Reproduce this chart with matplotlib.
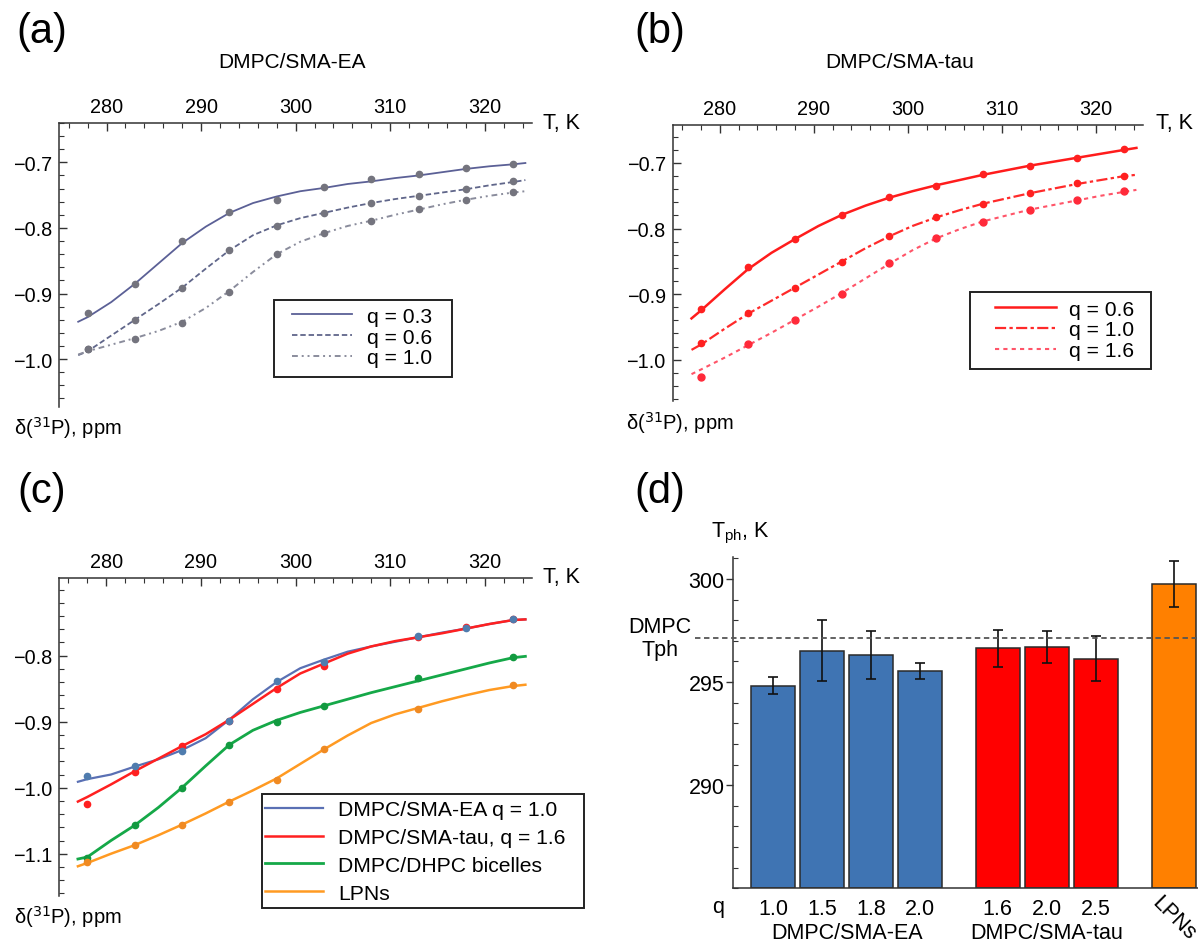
import matplotlib
matplotlib.use("Agg")
import matplotlib.pyplot as plt
from matplotlib.patches import Rectangle
from matplotlib.ticker import MultipleLocator

plt.rcParams["font.family"] = ["Liberation Sans", "DejaVu Sans"]

# ---- data ----
T_PTS = [278, 283, 288, 293, 298, 303, 308, 313, 318, 323]
T_FIT = [277, 278, 280.5, 283, 285.5, 288, 290.5, 293, 295.5, 298, 300.5,
         303, 305.5, 308, 310.5, 313, 315.5, 318, 320.5, 323, 324.3]

# (a) DMPC/SMA-EA
ea_q03 = [-0.929, -0.885, -0.820, -0.775, -0.757, -0.738, -0.726, -0.718, -0.709, -0.702]
ea_q06 = [-0.985, -0.940, -0.891, -0.833, -0.797, -0.777, -0.762, -0.751, -0.740, -0.729]
ea_q10 = [-0.985, -0.969, -0.945, -0.897, -0.840, -0.808, -0.790, -0.771, -0.757, -0.745]
ea_q03_fit = [-0.943, -0.936, -0.913, -0.885, -0.854, -0.823, -0.798, -0.777, -0.762, -0.752, -0.744,
              -0.739, -0.733, -0.729, -0.724, -0.720, -0.715, -0.710, -0.706, -0.703, -0.701]
ea_q06_fit = [-0.994, -0.988, -0.964, -0.940, -0.916, -0.891, -0.862, -0.834, -0.811, -0.796, -0.785,
              -0.777, -0.769, -0.762, -0.756, -0.751, -0.746, -0.741, -0.735, -0.730, -0.727]
ea_q10_fit = [-0.993, -0.988, -0.978, -0.968, -0.957, -0.943, -0.922, -0.896, -0.867, -0.840, -0.821,
              -0.808, -0.797, -0.789, -0.780, -0.772, -0.764, -0.757, -0.751, -0.746, -0.744]

# (b) DMPC/SMA-tau
tau_q06 = [-0.923, -0.858, -0.816, -0.779, -0.752, -0.735, -0.717, -0.704, -0.692, -0.679]
tau_q10 = [-0.975, -0.929, -0.891, -0.851, -0.812, -0.783, -0.762, -0.746, -0.731, -0.720]
tau_q16 = [-1.026, -0.976, -0.939, -0.900, -0.852, -0.814, -0.790, -0.772, -0.757, -0.743]
tau_q06_fit = [-0.937, -0.925, -0.893, -0.862, -0.837, -0.816, -0.796, -0.779, -0.765, -0.753, -0.743,
               -0.734, -0.726, -0.718, -0.711, -0.704, -0.698, -0.692, -0.686, -0.680, -0.677]
tau_q10_fit = [-0.985, -0.977, -0.953, -0.930, -0.910, -0.890, -0.870, -0.850, -0.830, -0.812, -0.796,
               -0.783, -0.772, -0.762, -0.754, -0.746, -0.739, -0.732, -0.726, -0.720, -0.718]
tau_q16_fit = [-1.022, -1.015, -0.997, -0.978, -0.959, -0.939, -0.919, -0.898, -0.876, -0.854, -0.833,
               -0.815, -0.801, -0.789, -0.780, -0.771, -0.764, -0.757, -0.750, -0.744, -0.741]

# (c) comparison
T_PTS_C1 = [278, 283, 288, 293, 298, 303, 313, 318, 323]
ea_c_pts = [-0.983, -0.967, -0.944, -0.899, -0.839, -0.809, -0.770, -0.758, -0.745]
tau_c_pts = [-1.025, -0.976, -0.937, -0.899, -0.851, -0.815, -0.772, -0.757, -0.745]
T_PTS_C2 = [278, 283, 288, 293, 298, 303, 313, 323]
bic_pts = [-1.107, -1.057, -1.000, -0.936, -0.900, -0.876, -0.834, -0.802]
lpn_pts = [-1.113, -1.087, -1.056, -1.021, -0.988, -0.942, -0.881, -0.845]
ea_c_fit = [-0.991, -0.987, -0.980, -0.968, -0.957, -0.943, -0.925, -0.897, -0.866, -0.840, -0.819,
            -0.806, -0.794, -0.786, -0.779, -0.772, -0.765, -0.759, -0.752, -0.746, -0.745]
tau_c_fit = [-1.021, -1.014, -0.995, -0.975, -0.956, -0.937, -0.919, -0.897, -0.873, -0.849, -0.827,
             -0.812, -0.797, -0.786, -0.778, -0.772, -0.766, -0.759, -0.752, -0.746, -0.745]
bic_fit = [-1.108, -1.105, -1.080, -1.057, -1.030, -1.000, -0.967, -0.935, -0.913, -0.898, -0.886,
           -0.876, -0.866, -0.856, -0.847, -0.838, -0.829, -0.820, -0.811, -0.803, -0.801]
lpn_fit = [-1.119, -1.114, -1.100, -1.087, -1.072, -1.056, -1.039, -1.021, -1.004, -0.986, -0.964,
           -0.942, -0.921, -0.902, -0.889, -0.879, -0.869, -0.860, -0.852, -0.846, -0.844]

# (d) phase transition temperatures
bar_labels = ["1.0", "1.5", "1.8", "2.0", "1.6", "2.0", "2.5"]
bar_pos = [0, 1, 2, 3, 4.58, 5.58, 6.58, 8.18]
tph = [294.82, 296.53, 296.32, 295.54, 296.63, 296.71, 296.14, 299.76]
tph_err = [0.41, 1.49, 1.17, 0.38, 0.90, 0.78, 1.10, 1.11]
bar_colors = ["#3f74b3"] * 4 + ["#ff0000"] * 3 + ["#ff8000"]
dmpc_tph = 297.15

W, H = 1198, 945
fig = plt.figure(figsize=(W / 100, H / 100), dpi=100)

TICK_FS = 14.3
LABEL_FS = 14.5
LEG_FS = 15.2


def box(left, right, top, bottom):
    return [left / W, 1 - bottom / H, (right - left) / W, (bottom - top) / H]


def ftext(x, y, s, **kw):
    fig.text(x / W, 1 - y / H, s, **kw)


def style_curve_axes(ax, ylim, yticks):
    ax.set_xlim(275, 325)
    ax.set_ylim(*ylim)
    ax.spines["right"].set_visible(False)
    ax.spines["bottom"].set_visible(False)
    for s in ("left", "top"):
        ax.spines[s].set_color("#333333")
        ax.spines[s].set_linewidth(1.1)
    ax.xaxis.tick_top()
    ax.set_xticks([280, 290, 300, 310, 320])
    ax.xaxis.set_minor_locator(MultipleLocator(2))
    ax.set_yticks(yticks)
    ax.yaxis.set_minor_locator(MultipleLocator(0.02))
    ax.tick_params(which="major", direction="in", length=6, width=1.0, labelsize=TICK_FS,
                   pad=5, color="#333333")
    ax.tick_params(which="minor", direction="in", length=3.5, width=0.8, color="#333333")
    ax.patch.set_alpha(0)


def framed_legend(ax, frame, anchor, handlelength, handletextpad, labelspacing):
    # frame = (left, right, top, bottom) in figure pixels, anchor = (x, y) of left/centre
    l, r, t, b = frame
    ax.add_patch(Rectangle((l / W, 1 - b / H), (r - l) / W, (b - t) / H,
                           transform=fig.transFigure, facecolor="white", edgecolor="#222222",
                           linewidth=1.4, clip_on=False, zorder=5))
    leg = ax.legend(loc="center left", bbox_to_anchor=(anchor[0] / W, 1 - anchor[1] / H),
                    bbox_transform=fig.transFigure, fontsize=LEG_FS, frameon=False,
                    handlelength=handlelength, handletextpad=handletextpad,
                    labelspacing=labelspacing, borderpad=0, borderaxespad=0)
    leg.set_zorder(6)
    return leg


# ---- (a) ----
ax = fig.add_axes(box(59.3, 532, 124, 408))
style_curve_axes(ax, (-1.073, -0.640), [-1.0, -0.9, -0.8, -0.7])
ax.plot(T_FIT, ea_q03_fit, color="#5b6096", lw=1.3, label="q = 0.3")
ax.plot(T_FIT, ea_q06_fit, color="#60668a", lw=1.3, ls=(0, (3, 1.6)), label="q = 0.6")
ax.plot(T_FIT, ea_q10_fit, color="#8a8c9c", lw=1.4, ls=(0, (3, 2, 1, 2, 1, 2)), label="q = 1.0")
for ys in (ea_q03, ea_q06, ea_q10):
    ax.plot(T_PTS, ys, "o", color="#74747e", ms=4.5, zorder=3)
framed_legend(ax, (274, 452, 301, 378), (292, 338), 2.84, 0.71, 0.08)
ftext(42, 32, "(a)", fontsize=30, ha="center", va="center")
ftext(292, 62, "DMPC/SMA-EA", fontsize=15, ha="center", va="center")
ftext(543, 123, "T, K", fontsize=15.5, ha="left", va="center")
ftext(14, 428, r"δ($^{31}$P), ppm", fontsize=LABEL_FS, ha="left", va="center")

# ---- (b) ----
ax = fig.add_axes(box(672.7, 1143, 125.7, 401.7))
style_curve_axes(ax, (-1.0625, -0.6416), [-1.0, -0.9, -0.8, -0.7])
ax.plot(T_FIT, tau_q06_fit, color="#ff1c1c", lw=1.8, label="q = 0.6")
ax.plot(T_FIT, tau_q10_fit, color="#ff2a2a", lw=1.6, ls=(0, (5, 1.5, 1.5, 1.5)), label="q = 1.0")
ax.plot(T_FIT, tau_q16_fit, color="#ff5468", lw=1.5, ls=(0, (2, 2)), label="q = 1.6")
ax.plot(T_PTS, tau_q06, "o", color="#ff2020", ms=4.5, zorder=3)
ax.plot(T_PTS, tau_q10, "o", color="#ff2020", ms=4.5, zorder=3)
ax.plot(T_PTS, tau_q16, "o", color="#ff2a3a", ms=5, zorder=3)
framed_legend(ax, (970, 1151, 293, 370), (995, 331), 2.9, 0.62, 0.08)
ftext(660, 32, "(b)", fontsize=30, ha="center", va="center")
ftext(900, 62, "DMPC/SMA-tau", fontsize=15, ha="center", va="center")
ftext(1156, 123, "T, K", fontsize=15.5, ha="left", va="center")
ftext(626, 423, r"δ($^{31}$P), ppm", fontsize=LABEL_FS, ha="left", va="center")

# ---- (c) ----
ax = fig.add_axes(box(59, 532, 579, 896.7))
style_curve_axes(ax, (-1.1636, -0.6823), [-1.1, -1.0, -0.9, -0.8])
ax.plot(T_FIT, ea_c_fit, color="#5a70b4", lw=1.6, label="DMPC/SMA-EA q = 1.0")
ax.plot(T_FIT, tau_c_fit, color="#ff2020", lw=1.8, label="DMPC/SMA-tau, q = 1.6")
ax.plot(T_FIT, bic_fit, color="#15a848", lw=2.0, label="DMPC/DHPC bicelles")
ax.plot(T_FIT, lpn_fit, color="#ff9a22", lw=1.8, label="LPNs")
ax.plot(T_PTS_C1, tau_c_pts, "o", color="#ff2020", ms=4.5, zorder=3)
ax.plot(T_PTS_C1, ea_c_pts, "o", color="#4f7cae", ms=4.5, zorder=3)
ax.plot(T_PTS_C2, bic_pts, "o", color="#129a40", ms=4.5, zorder=3)
ax.plot(T_PTS_C2, lpn_pts, "o", color="#f08a22", ms=4.5, zorder=3)
framed_legend(ax, (262, 584, 795, 909), (265, 852.5), 2.75, 0.71, 0.415)
ftext(42, 492, "(c)", fontsize=30, ha="center", va="center")
ftext(543, 578, "T, K", fontsize=15.5, ha="left", va="center")
ftext(14, 917, r"δ($^{31}$P), ppm", fontsize=LABEL_FS, ha="left", va="center")

# ---- (d) ----
ax = fig.add_axes(box(733, 1198, 558.3, 889.3))
ax.set_xlim(-0.82, 8.67)
ax.set_ylim(285, 301.05)
ax.bar(bar_pos, [v - 285 for v in tph], bottom=285, width=0.9, color=bar_colors,
       edgecolor="#2a2a2a", linewidth=1.1, zorder=2)
ax.errorbar(bar_pos, tph, yerr=tph_err, fmt="none", ecolor="#111111", elinewidth=1.2,
            capsize=3.5, capthick=1.2, zorder=3)
ax.axhline(dmpc_tph, xmin=(695 - 733) / 465, xmax=1, color="#555555", lw=1.3,
           ls=(0, (3, 2)), clip_on=False, zorder=4)
for s in ("top", "right"):
    ax.spines[s].set_visible(False)
for s in ("left", "bottom"):
    ax.spines[s].set_color("#333333")
    ax.spines[s].set_linewidth(1.1)
ax.set_yticks([290, 295, 300])
ax.yaxis.set_minor_locator(MultipleLocator(1))
ax.tick_params(axis="y", which="major", direction="out", length=5, width=1.0, labelsize=15.5,
               pad=1, color="#333333")
ax.tick_params(axis="y", which="minor", direction="in", length=3.5, width=0.8, color="#333333")
ax.set_xticks(bar_pos[:7])
ax.set_xticklabels(bar_labels)
ax.tick_params(axis="x", length=0, labelsize=15.5, pad=7)
ax.text(bar_pos[7], -0.088, "LPNs", transform=ax.get_xaxis_transform(), rotation=-45,
        ha="center", va="center", fontsize=15.5)
ax.text(sum(bar_pos[:4]) / 4, -0.133, "DMPC/SMA-EA", transform=ax.get_xaxis_transform(),
        ha="center", va="center", fontsize=15.5)
ax.text(sum(bar_pos[4:7]) / 3, -0.133, "DMPC/SMA-tau", transform=ax.get_xaxis_transform(),
        ha="center", va="center", fontsize=15.5)
ax.patch.set_alpha(0)
ftext(660, 492, "(d)", fontsize=30, ha="center", va="center")
ftext(740, 533, r"T$_{\mathregular{ph}}$, K", fontsize=15.5, ha="center", va="center")
ftext(660, 639, "DMPC\nTph", fontsize=15.5, ha="center", va="center", linespacing=1.1)
ftext(718, 908, "q", fontsize=15.5, ha="center", va="center")

fig.savefig("out.png", dpi=100, facecolor="white")
